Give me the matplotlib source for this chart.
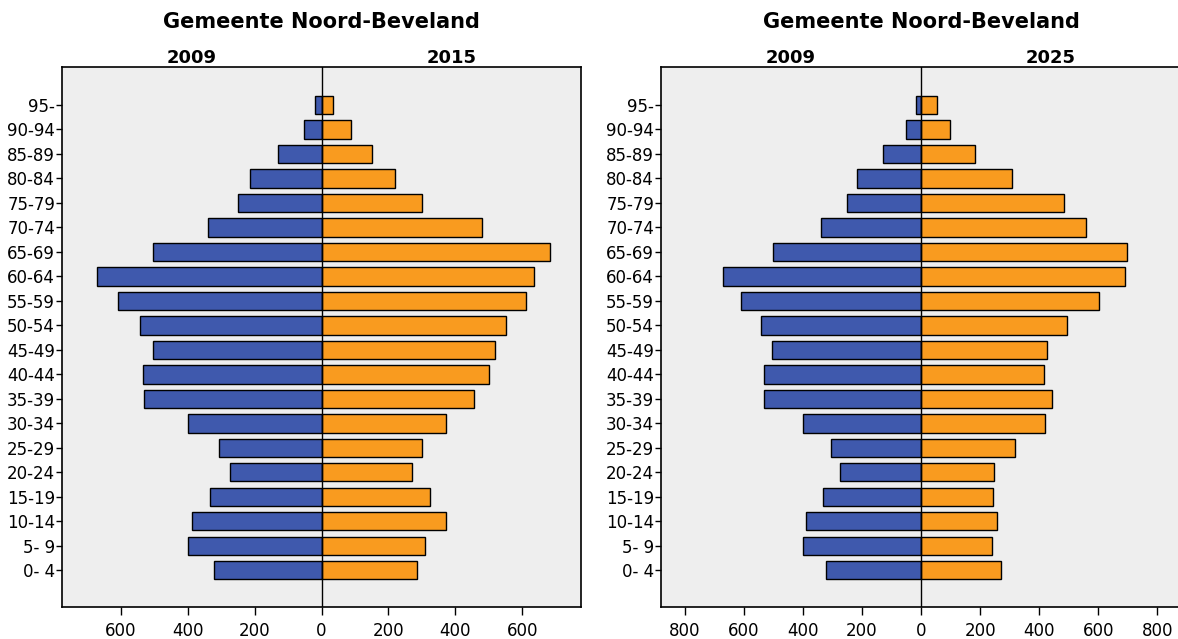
import numpy as np
import matplotlib.pyplot as plt

leeftijd = ['0- 4', '5- 9', '10-14', '15-19', '20-24', '25-29', '30-34', '35-39',
            '40-44', '45-49', '50-54', '55-59', '60-64', '65-69', '70-74', '75-79',
            '80-84', '85-89', '90-94', '95-']

mannen_2009 = [320, 400, 388, 333, 273, 306, 400, 530, 533, 503, 541, 608, 670, 502,
               340, 250, 215, 130, 51, 18]
vrouwen_2015 = [284, 310, 373, 325, 269, 299, 373, 454, 499, 519, 552, 612, 636, 681,
                478, 299, 221, 152, 87, 33]
vrouwen_2025 = [271, 241, 258, 244, 247, 319, 420, 444, 417, 427, 495, 603, 692, 698,
                559, 485, 308, 183, 98, 54]

blauw = '#3f59ad'
oranje = '#f99b1f'
achtergrond = '#eeeeee'

plt.rcParams['font.family'] = ['DejaVu Sans']

fig = plt.figure(figsize=(11.78, 6.39), dpi=100)
fig.patch.set_facecolor('white')

def piramide(ax, links, rechts, jaar_links, jaar_rechts, xmax, ticks):
    y = np.arange(len(leeftijd))
    ax.set_facecolor(achtergrond)
    ax.barh(y, [-v for v in links], height=0.75, color=blauw, edgecolor='black', linewidth=1)
    ax.barh(y, rechts, height=0.75, color=oranje, edgecolor='black', linewidth=1)
    ax.axvline(0, color='black', linewidth=1)
    ax.set_xlim(-xmax, xmax)
    ax.set_ylim(-1.5, len(leeftijd) - 1 + 1.55)
    ax.set_yticks(y)
    ax.set_yticklabels(leeftijd, fontsize=12)
    ax.set_xticks(ticks)
    ax.set_xticklabels([str(abs(t)) for t in ticks], fontsize=12)
    ax.tick_params(axis='both', direction='out', length=6, width=1, colors='black')
    ax.tick_params(axis='y', length=4, pad=1)
    ax.tick_params(axis='x', pad=5)
    for s in ax.spines.values():
        s.set_linewidth(1.2)
        s.set_color('black')
    ax.text(0.25, 1.0, jaar_links, transform=ax.transAxes, ha='center', va='bottom',
            fontsize=13, fontweight='bold')
    ax.text(0.75, 1.0, jaar_rechts, transform=ax.transAxes, ha='center', va='bottom',
            fontsize=13, fontweight='bold')
    ax.text(0.5, 1.065, 'Gemeente Noord-Beveland', transform=ax.transAxes, ha='center',
            va='bottom', fontsize=15, fontweight='bold')

ax1 = fig.add_axes([62 / 1178, 32 / 639, 519 / 1178, 540 / 639])
piramide(ax1, mannen_2009, vrouwen_2015, '2009', '2015', 775,
         [-600, -400, -200, 0, 200, 400, 600])

# rechter paneel loopt net buiten de rand, zoals in het origineel
ax2 = fig.add_axes([661 / 1178, 32 / 639, 520 / 1178, 540 / 639])
piramide(ax2, mannen_2009, vrouwen_2025, '2009', '2025', 880,
         [-800, -600, -400, -200, 0, 200, 400, 600, 800])

fig.savefig('out.png', dpi=100)
